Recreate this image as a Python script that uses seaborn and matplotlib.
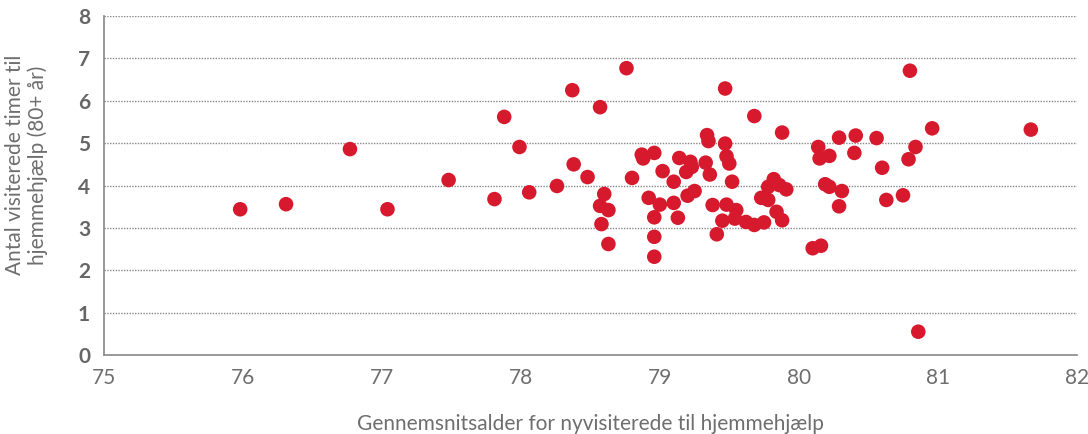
import matplotlib
matplotlib.use("Agg")
import matplotlib.pyplot as plt
import seaborn as sns
import pandas as pd

age = [75.98, 76.31, 76.77, 77.04, 77.48, 77.81, 77.88, 77.99, 78.06, 78.26,
       78.37, 78.38, 78.48, 78.57, 78.57, 78.58, 78.60, 78.63, 78.63, 78.76,
       79.47, 79.68, 79.88, 79.34, 79.35, 79.47, 80.14, 80.29, 80.41, 80.56,
       78.87, 78.88, 78.96, 79.14, 79.22, 79.23, 79.19, 79.33, 79.48, 79.50,
       80.15, 80.22, 80.40, 80.60, 78.80, 79.02, 79.10, 79.36, 79.52, 79.25,
       79.20, 78.92, 79.00, 79.10, 78.96, 79.13, 78.96, 78.96, 79.38, 79.48,
       79.55, 79.54, 79.45, 79.41, 79.62, 79.68, 79.75, 79.73, 79.78, 79.78,
       79.82, 79.86, 79.91, 79.84, 79.88, 80.19, 80.22, 80.31, 80.29, 80.63,
       80.75, 80.10, 80.16, 80.80, 80.96, 81.67, 80.84, 80.79, 80.86]
hours = [3.44, 3.56, 4.86, 3.44, 4.13, 3.68, 5.62, 4.91, 3.84, 3.99,
         6.25, 4.50, 4.20, 5.85, 3.52, 3.09, 3.80, 3.42, 2.62, 6.77,
         6.29, 5.64, 5.25, 5.19, 5.05, 4.99, 4.91, 5.13, 5.18, 5.12,
         4.73, 4.64, 4.77, 4.65, 4.56, 4.44, 4.32, 4.54, 4.69, 4.52,
         4.64, 4.70, 4.77, 4.42, 4.18, 4.34, 4.09, 4.26, 4.09, 3.87,
         3.76, 3.71, 3.55, 3.59, 3.25, 3.24, 2.79, 2.32, 3.54, 3.55,
         3.42, 3.22, 3.17, 2.85, 3.14, 3.07, 3.13, 3.71, 3.66, 3.97,
         4.15, 4.01, 3.91, 3.38, 3.18, 4.03, 3.97, 3.87, 3.51, 3.66,
         3.77, 2.52, 2.58, 6.71, 5.35, 5.32, 4.91, 4.62, 0.55]

x_ticks = [75, 76, 77, 78, 79, 80, 81, 82]
y_ticks = [0, 1, 2, 3, 4, 5, 6, 7, 8]
x_label = "Gennemsnitsalder for nyvisiterede til hjemmehjælp"
y_label = "Antal visiterede timer til\nhjemmehjælp (80+ år)"

df = pd.DataFrame({"age": age, "hours": hours})

sns.set_theme(style="white")
plt.rcParams["font.family"] = ["Lato", "DejaVu Sans"]

fig = plt.figure(figsize=(10.88, 4.34), dpi=100)
ax = fig.add_axes([0.0956, 0.182, 0.894, 0.781])

sns.scatterplot(data=df, x="age", y="hours", ax=ax, color="#d7192d",
                s=110, edgecolor="none", linewidth=0, zorder=3)

ax.set_xlim(75, 82)
ax.set_ylim(0, 8)
ax.set_xticks(x_ticks)
ax.set_yticks(y_ticks)
ax.set_xticklabels([str(t) for t in x_ticks], fontsize=15, color="#6e6e6e",
                   fontweight="normal")
ax.set_yticklabels([str(t) for t in y_ticks], fontsize=15, color="#666666",
                   fontweight="bold")

for y in y_ticks[1:]:
    ax.axhline(y, color="#888888", linestyle=(0, (1, 1)), linewidth=1.0, zorder=1)

for side in ["top", "right"]:
    ax.spines[side].set_visible(False)
for side in ["left", "bottom"]:
    ax.spines[side].set_color("#888888")
    ax.spines[side].set_linewidth(1.2)

ax.tick_params(axis="both", length=0)
ax.tick_params(axis="x", pad=9)
ax.tick_params(axis="y", pad=10)

ax.set_xlabel(x_label, fontsize=15, color="#6e6e6e", fontweight="normal")
ax.xaxis.set_label_coords(0.5, -0.175)
ax.set_ylabel(y_label, fontsize=15, color="#6e6e6e", fontweight="normal",
              linespacing=1.1)
ax.yaxis.set_label_coords(-0.058, 0.56)

fig.savefig("out.png", dpi=100)
